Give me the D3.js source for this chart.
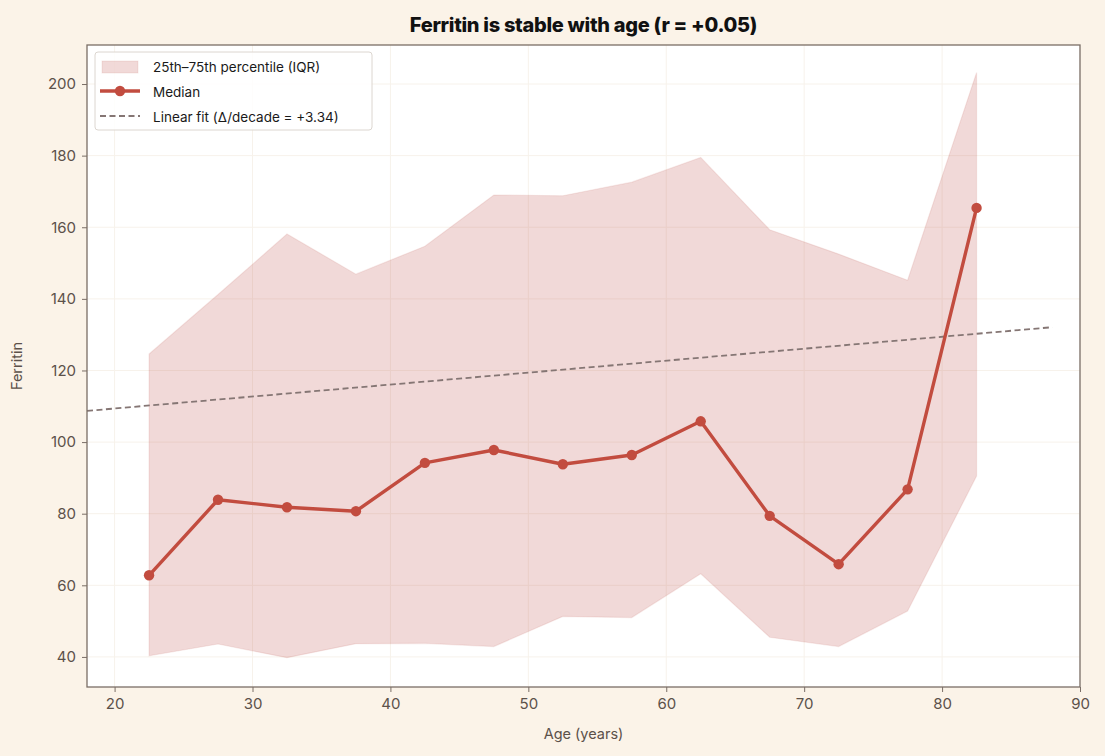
<!DOCTYPE html>
<html>
<head>
<meta charset="utf-8">
<script src="https://cdn.jsdelivr.net/npm/d3@7"></script>
<style>
  body { margin: 0; background: #fbf3e8; }
  svg { display: block; font-family: Inter, "Noto Sans", sans-serif; }
</style>
</head>
<body>
<svg width="1105" height="756"></svg>
<script>
// age bin centres (years)
const ages = [22.5, 27.5, 32.5, 37.5, 42.5, 47.5, 52.5, 57.5, 62.5, 67.5, 72.5, 77.5, 82.5];
const median = [62.8, 83.9, 81.8, 80.7, 94.2, 97.8, 93.8, 96.4, 105.8, 79.4, 65.9, 86.8, 165.4];
const p25 = [40.3, 43.6, 39.8, 43.7, 43.8, 42.9, 51.3, 51.0, 63.2, 45.5, 42.9, 52.8, 90.5];
const p75 = [124.6, 141.2, 158.1, 146.9, 154.7, 169.0, 168.8, 172.6, 179.5, 159.3, 152.5, 145.2, 203.2];
const fitRange = [18, 88];
const fitSlope = 0.334;     // per year (3.34 per decade)
const fitIntercept = 102.7;
const xTicks = [20, 30, 40, 50, 60, 70, 80, 90];
const yTicks = [40, 60, 80, 100, 120, 140, 160, 180, 200];

const margin = {top: 45, right: 25, bottom: 69, left: 87},
      width = 1105 - margin.left - margin.right,
      height = 756 - margin.top - margin.bottom;

const svg = d3.select("svg");
const g = svg.append("g").attr("transform", `translate(${margin.left},${margin.top})`);

const x = d3.scaleLinear().domain([18, 90]).range([0, width]);
const y = d3.scaleLinear().domain([31.6, 210.9]).range([height, 0]);

g.append("rect").attr("width", width).attr("height", height).attr("fill", "#ffffff");

// grid
g.selectAll(".gx").data(xTicks).enter().append("line")
  .attr("x1", d => x(d)).attr("x2", d => x(d)).attr("y1", 0).attr("y2", height)
  .attr("stroke", "#f7f2eb").attr("stroke-width", 1);
g.selectAll(".gy").data(yTicks).enter().append("line")
  .attr("y1", d => y(d)).attr("y2", d => y(d)).attr("x1", 0).attr("x2", width)
  .attr("stroke", "#f7f2eb").attr("stroke-width", 1);

const rows = ages.map((a, i) => ({age: a, med: median[i], lo: p25[i], hi: p75[i]}));

// IQR band
g.append("path").datum(rows)
  .attr("fill", "#c0504d").attr("fill-opacity", 0.22)
  .attr("stroke", "#c0504d").attr("stroke-opacity", 0.12).attr("stroke-width", 1.2)
  .attr("d", d3.area().x(d => x(d.age)).y0(d => y(d.lo)).y1(d => y(d.hi)));

// linear fit
g.append("path").datum(fitRange)
  .attr("fill", "none").attr("stroke", "#857674").attr("stroke-width", 1.8)
  .attr("stroke-dasharray", "6,3.5")
  .attr("d", d3.line().x(d => x(d)).y(d => y(fitIntercept + fitSlope * d)));

// median line
g.append("path").datum(rows)
  .attr("fill", "none").attr("stroke", "#c24c3f").attr("stroke-width", 3.4)
  .attr("stroke-linejoin", "round")
  .attr("d", d3.line().x(d => x(d.age)).y(d => y(d.med)));
g.selectAll(".dot").data(rows).enter().append("circle")
  .attr("cx", d => x(d.age)).attr("cy", d => y(d.med)).attr("r", 5.2)
  .attr("fill", "#c24c3f");

// axes
const xAxis = g.append("g").attr("transform", `translate(0,${height})`)
  .call(d3.axisBottom(x).tickValues(xTicks).tickSize(5).tickPadding(6));
const yAxis = g.append("g")
  .call(d3.axisLeft(y).tickValues(yTicks).tickSize(5).tickPadding(6));
[xAxis, yAxis].forEach(a => {
  a.select(".domain").remove();
  a.selectAll("line").attr("stroke", "#7a6e66");
  a.selectAll("text").attr("fill", "#5c514a").style("font-size", "15px")
    .style("font-family", "Inter, sans-serif");
});

// frame
g.append("rect").attr("width", width).attr("height", height)
  .attr("fill", "none").attr("stroke", "#7a6e66").attr("stroke-width", 1.3);

// titles
svg.append("text").attr("x", margin.left + width / 2).attr("y", 32)
  .attr("text-anchor", "middle").attr("font-weight", 800).attr("font-size", 20)
  .attr("letter-spacing", "-0.3px")
  .attr("fill", "#111").text("Ferritin is stable with age (r = +0.05)");
svg.append("text").attr("x", margin.left + width / 2).attr("y", 739)
  .attr("text-anchor", "middle").attr("font-size", 14.5).attr("fill", "#5c514a")
  .text("Age (years)");
svg.append("text").attr("transform", `translate(22,${margin.top + height / 2}) rotate(-90)`)
  .attr("text-anchor", "middle").attr("font-size", 14.5).attr("fill", "#5c514a")
  .text("Ferritin");

// legend
const lg = g.append("g").attr("transform", "translate(8,7)");
lg.append("rect").attr("width", 277).attr("height", 78).attr("rx", 3)
  .attr("fill", "#ffffff").attr("fill-opacity", 0.85).attr("stroke", "#dcd6d0");
lg.append("rect").attr("x", 7).attr("y", 9).attr("width", 36).attr("height", 12)
  .attr("fill", "#c0504d").attr("fill-opacity", 0.22)
  .attr("stroke", "#c0504d").attr("stroke-opacity", 0.12);
lg.append("line").attr("x1", 5).attr("x2", 45).attr("y1", 39).attr("y2", 39)
  .attr("stroke", "#c24c3f").attr("stroke-width", 3.4);
lg.append("circle").attr("cx", 25).attr("cy", 39).attr("r", 5.2).attr("fill", "#c24c3f");
lg.append("line").attr("x1", 5).attr("x2", 45).attr("y1", 64).attr("y2", 64)
  .attr("stroke", "#857674").attr("stroke-width", 1.8).attr("stroke-dasharray", "6,3.5");
const labels = ["25th\u201375th percentile (IQR)", "Median", "Linear fit (\u0394/decade = +3.34)"];
lg.selectAll(".lt").data(labels).enter().append("text")
  .attr("x", 58).attr("y", (d, i) => 15 + i * 25).attr("dy", "0.35em")
  .attr("font-size", 13.5).attr("fill", "#1a1a1a").text(d => d);
</script>
</body>
</html>
